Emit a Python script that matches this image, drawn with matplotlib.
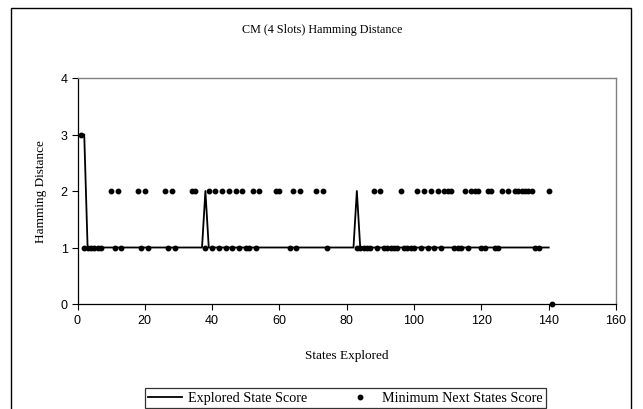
import matplotlib
matplotlib.use("Agg")
import matplotlib.pyplot as plt
from matplotlib.lines import Line2D
from matplotlib.patches import Rectangle

# Explored State Score (line) - breakpoints
explored_x = [1, 2, 3, 37, 38, 39, 82, 83, 84, 140]
explored_y = [3, 3, 1, 1, 2, 1, 1, 2, 1, 1]

# Minimum Next States Score (dots)
next_x = [1,
          2, 3, 4, 5, 6, 7,
          10, 11, 12, 13,
          18, 19, 20, 21,
          26, 27, 28, 29,
          34, 35,
          38, 39, 40, 41, 42, 43, 44, 45, 46, 47, 48, 49, 50, 51, 52, 53, 54,
          59, 60,
          63, 64, 65, 66,
          71, 73, 74,
          83, 84, 85, 86, 87, 88, 89, 90, 91, 92, 93, 94, 95, 96,
          97, 98, 99, 100, 101, 102, 103, 104, 105, 106, 107, 108,
          109, 110, 111, 112, 113, 114, 115, 116, 117, 118, 119,
          120, 121, 122, 123, 124, 125, 126, 128,
          130, 131, 132, 133, 134, 135, 136, 137, 140, 141]
next_y = [3,
          1, 1, 1, 1, 1, 1,
          2, 1, 2, 1,
          2, 1, 2, 1,
          2, 1, 2, 1,
          2, 2,
          1, 2, 1, 2, 1, 2, 1, 2, 1, 2, 1, 2, 1, 1, 2, 1, 2,
          2, 2,
          1, 2, 1, 2,
          2, 2, 1,
          1, 1, 1, 1, 1, 2, 1, 2, 1, 1, 1, 1, 1, 2,
          1, 1, 1, 1, 2, 1, 2, 1, 2, 1, 2, 1,
          2, 2, 2, 1, 1, 1, 2, 1, 2, 2, 2,
          1, 1, 2, 2, 1, 1, 2, 2,
          2, 2, 2, 2, 2, 2, 1, 1, 2, 0]

x_ticks = [0, 20, 40, 60, 80, 100, 120, 140, 160]
y_ticks = [0, 1, 2, 3, 4]

W, H = 643, 410
fig = plt.figure(figsize=(W / 100, H / 100), dpi=100)
serif = "Liberation Serif"
sans = "Liberation Sans"

# outer chart border
fig.patches.append(Rectangle((11 / W, -0.05), (631 - 11) / W, 1.05 - 9 / H,
                             transform=fig.transFigure, fill=False,
                             edgecolor="black", linewidth=1.0))

ax = fig.add_axes([77.5 / W, 1 - 305 / H, (616 - 77.5) / W, (305 - 79) / H])
ax.plot(explored_x, explored_y, color="black", linewidth=1.3, zorder=3)
ax.plot(next_x, next_y, linestyle="none", marker="o", markersize=3.2,
        color="black", zorder=4, clip_on=False)

ax.set_xlim(0, 160)
ax.set_ylim(0, 4)
ax.set_xticks(x_ticks)
ax.set_yticks(y_ticks)
ax.set_xticklabels([str(v) for v in x_ticks], fontfamily=sans, fontsize=9)
ax.set_yticklabels([str(v) for v in y_ticks], fontfamily=sans, fontsize=9)
ax.tick_params(axis="both", direction="out", length=4, width=0.8, color="black", pad=3)
for s in ["top", "right"]:
    ax.spines[s].set_color("#808080")
    ax.spines[s].set_linewidth(1.0)
for s in ["left", "bottom"]:
    ax.spines[s].set_color("black")
    ax.spines[s].set_linewidth(0.9)

fig.text(322 / W, 1 - 30 / H, "CM (4 Slots) Hamming Distance", ha="center",
         va="center", fontfamily=serif, fontsize=8.7)
ax.set_xlabel("States Explored", fontfamily=serif, fontsize=9.5, labelpad=17)
ax.set_ylabel("Hamming Distance", fontfamily=serif, fontsize=9.5, labelpad=10)

handles = [Line2D([], [], color="black", linewidth=1.3),
           Line2D([], [], linestyle="none", marker="o", markersize=3.2, color="black")]
leg = fig.legend(handles, ["Explored State Score", "Minimum Next States Score"],
                 loc="center", bbox_to_anchor=(345.5 / W, 1 - 399 / H), ncol=2,
                 frameon=True, fancybox=False, edgecolor="black",
                 prop={"family": serif, "size": 10.2}, handlelength=2.4,
                 columnspacing=2.5, borderpad=0.25, handletextpad=0.4)
leg.get_frame().set_linewidth(0.9)

fig.savefig("out.png", dpi=100)
